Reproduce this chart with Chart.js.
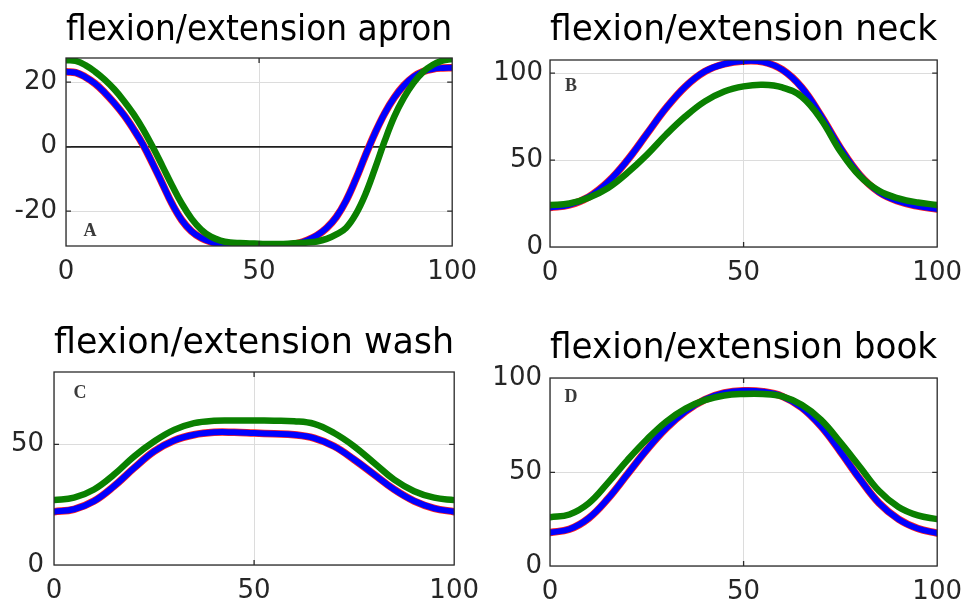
<!DOCTYPE html>
<html><head><meta charset="utf-8">
<script src="https://cdn.jsdelivr.net/npm/chart.js@4"></script>
<style>
html,body{margin:0;padding:0;background:#fff;overflow:hidden;width:971px;height:605px;}
canvas{position:absolute;}
</style></head><body>
<canvas id="cA"></canvas><canvas id="cB"></canvas><canvas id="cC"></canvas><canvas id="cD"></canvas>
<script>
// ---- data ----
const cyclePctFine = [0,2.5,5,7.5,10,12.5,15,17.5,20,22.5,25,27.5,30,32.5,35,37.5,40,42.5,45,47.5,50,52.5,55,57.5,60,62.5,65,67.5,70,72.5,75,77.5,80,82.5,85,87.5,90,92.5,95,97.5,100];
const cyclePct = [0,5,10,15,20,25,30,35,40,45,50,55,60,65,70,75,80,85,90,95,100];
const xTickValues = [0,50,100];

const apronTitle = 'flexion/extension apron';
const apronYTicks = [-20,0,20];
const apronRed   = [23.2,23.0,21.6,19.6,16.8,13.5,9.8,5.4,0.5,-5.4,-11.6,-17.8,-22.8,-26.2,-28.3,-29.5,-30.2,-30.5,-30.7,-30.8,-30.8,-30.8,-30.7,-30.5,-30.0,-29.0,-27.5,-25.2,-21.8,-16.8,-10.2,-2.8,4.2,10.3,15.2,19.0,21.7,23.3,24.1,24.4,24.5];
const apronBlue  = [23.2,23.0,21.6,19.6,16.8,13.5,9.8,5.4,0.5,-5.4,-11.6,-17.8,-22.8,-26.2,-28.3,-29.5,-30.2,-30.5,-30.7,-30.8,-30.8,-30.8,-30.7,-30.5,-30.0,-29.0,-27.5,-25.2,-21.8,-16.8,-10.2,-2.8,4.2,10.3,15.2,19.0,21.7,23.3,24.1,24.4,24.5];
const apronGreen = [26.8,26.6,25.3,23.3,20.8,17.8,14.2,10.1,5.3,-0.2,-6.1,-12.1,-17.7,-22.3,-25.7,-27.9,-29.1,-29.7,-29.9,-30.0,-30.1,-30.2,-30.2,-30.1,-29.9,-29.7,-29.4,-28.6,-27.2,-25.2,-21.0,-14.8,-6.8,1.7,9.3,15.2,19.8,23.2,25.4,26.7,27.2];

const neckTitle = 'flexion/extension neck';
const neckYTicks = [0,50,100];
const neckRed   = [22.7,24.2,28.8,37.5,50.0,65.0,80.0,92.4,101.0,105.3,107.0,106.5,102.0,91.8,75.5,57.0,41.5,31.5,26.3,23.5,21.8];
const neckBlue  = [22.7,24.2,28.8,37.5,50.0,65.0,80.0,92.4,101.0,105.3,107.0,106.5,102.0,91.8,75.5,57.0,41.5,31.5,26.3,23.5,21.8];
const neckGreen = [24.2,25.0,28.4,34.0,42.7,53.0,64.7,75.2,83.8,89.5,92.4,93.3,91.8,86.5,73.5,55.0,40.8,32.3,28.0,25.6,24.2];

const washTitle = 'flexion/extension wash';
const washYTicks = [0,50];
const washRed   = [22.1,23.1,26.5,32.7,40.2,47.1,51.6,54.0,55.0,55.0,54.7,54.4,54.0,52.6,49.2,43.7,37.5,31.3,26.5,23.5,22.1];
const washBlue  = [22.1,23.1,26.5,32.7,40.2,47.1,51.6,54.0,55.0,55.0,54.7,54.4,54.0,52.6,49.2,43.7,37.5,31.3,26.5,23.5,22.1];
const washGreen = [26.9,27.9,31.3,37.5,45.0,51.2,56.0,58.8,59.8,59.9,59.9,59.8,59.6,58.5,54.7,49.2,42.3,35.4,30.6,27.9,26.9];

const bookTitle = 'flexion/extension book';
const bookYTicks = [0,50,100];
const bookRed   = [17.9,19.6,25.5,36.0,49.0,62.0,73.5,82.5,88.8,92.3,93.5,93.0,90.5,84.5,74.5,61.0,46.5,33.5,25.0,20.0,17.5];
const bookBlue  = [17.9,19.6,25.5,36.0,49.0,62.0,73.5,82.5,88.8,92.3,93.5,93.0,90.5,84.5,74.5,61.0,46.5,33.5,25.0,20.0,17.5];
const bookGreen = [26.0,27.5,33.5,44.5,56.5,67.5,77.0,84.0,88.5,91.0,91.8,91.8,90.5,86.0,78.0,66.0,53.0,40.0,31.5,27.0,25.0];

// ---- layout / style ----
const Yw = 66, Xh = 45, padRight = 30;
const panels = [
  {id:'cA', title:apronTitle, letter:'A', xs:cyclePctFine, red:apronRed, blue:apronBlue, green:apronGreen, yTicks:apronYTicks, yMin:-30.8, yMax:27.5, zeroLine:true,
   box:{l:66,r:458,t:57,b:246}, top:0, tPad:[14,9], yPad:9, lpos:{edge:'bottom',dx:24,dy:-15}},
  {id:'cB', title:neckTitle, letter:'B', xs:cyclePct, red:neckRed, blue:neckBlue, green:neckGreen, yTicks:neckYTicks, yMin:0, yMax:107.6, zeroLine:false,
   box:{l:550,r:943,t:59,b:247}, top:0, tPad:[14,11], yPad:7, lpos:{edge:'top',dx:21,dy:26}},
  {id:'cC', title:washTitle, letter:'C', xs:cyclePct, red:washRed, blue:washBlue, green:washGreen, yTicks:washYTicks, yMin:0, yMax:80, zeroLine:false,
   box:{l:54,r:460,t:371,b:565}, top:300, tPad:[27,10], yPad:10, lpos:{edge:'top',dx:26,dy:21}},
  {id:'cD', title:bookTitle, letter:'D', xs:cyclePct, red:bookRed, blue:bookBlue, green:bookGreen, yTicks:bookYTicks, yMin:0, yMax:100.3, zeroLine:false,
   box:{l:550,r:943,t:377,b:566}, top:300, tPad:[32,11], yPad:8, lpos:{edge:'top',dx:21,dy:19}}
];

const boxPlugin = {
  id:'matlabBox',
  afterDatasetsDraw(chart, args, opts){
    const {ctx, chartArea:a, scales} = chart;
    ctx.save();
    ctx.strokeStyle = '#2b2b2b';
    ctx.lineWidth = 1.3;
    ctx.strokeRect(a.left, a.top, a.right - a.left, a.bottom - a.top);
    const tl = 5;
    ctx.beginPath();
    scales.x.ticks.forEach(t => {
      const px = scales.x.getPixelForValue(t.value);
      if (px <= a.left + 1 || px >= a.right - 1) return;
      ctx.moveTo(px, a.bottom); ctx.lineTo(px, a.bottom - tl);
      ctx.moveTo(px, a.top); ctx.lineTo(px, a.top + tl);
    });
    scales.y.ticks.forEach(t => {
      const py = scales.y.getPixelForValue(t.value);
      if (py <= a.top + 1 || py >= a.bottom - 1) return;
      ctx.moveTo(a.left, py); ctx.lineTo(a.left + tl, py);
      ctx.moveTo(a.right, py); ctx.lineTo(a.right - tl, py);
    });
    ctx.stroke();
    if (opts.letter) {
      ctx.font = 'bold 18px "Liberation Serif", "Times New Roman", serif';
      ctx.fillStyle = '#3a3a3a';
      ctx.textAlign = 'center';
      ctx.textBaseline = 'middle';
      const lp = opts.lpos;
      const y = lp.edge === 'top' ? a.top + lp.dy : a.bottom + lp.dy;
      ctx.fillText(opts.letter, a.left + lp.dx, y);
    }
    ctx.restore();
  }
};

function series(xs, vals){ return xs.map((x,i)=>({x:x, y:vals[i]})); }

panels.forEach(p => {
  const cv = document.getElementById(p.id);
  const plotW = p.box.r - p.box.l;
  cv.width = Yw + plotW + padRight;
  cv.height = p.box.b + Xh - p.top;
  cv.style.left = (p.box.l - Yw) + 'px';
  cv.style.top = p.top + 'px';
  cv.style.width = cv.width + 'px';
  cv.style.height = cv.height + 'px';
  const tickFont = {family:'"DejaVu Sans", sans-serif', size:26};
  const lineBase = {pointRadius:0, tension:0.4, borderCapStyle:'round', borderJoinStyle:'round'};
  new Chart(cv, {
    type:'line',
    data:{datasets:[
      Object.assign({label:'green', data:series(p.xs, p.green), borderColor:'#0a8000', borderWidth:6.5, order:0}, lineBase),
      Object.assign({label:'blue', data:series(p.xs, p.blue), borderColor:'#0000ff', borderWidth:6, order:1}, lineBase),
      Object.assign({label:'red', data:series(p.xs, p.red), borderColor:'#ff2020', borderWidth:7.5, order:2}, lineBase)
    ]},
    options:{
      responsive:false, animation:false, devicePixelRatio:1,
      events:[],
      layout:{padding:{left:0,right:padRight,top:0,bottom:0}},
      plugins:{
        legend:{display:false}, tooltip:{enabled:false},
        title:{display:true, fullSize:false, text:p.title, color:'#000',
               font:{family:'"DejaVu Sans", sans-serif', size:36, weight:'normal', lineHeight:1},
               padding:{top:p.tPad[0] - 1, bottom:p.tPad[1]}},
        matlabBox:{letter:p.letter, lpos:p.lpos}
      },
      scales:{
        x:{type:'linear', min:0, max:100,
           afterBuildTicks:s=>{s.ticks = xTickValues.map(v=>({value:v}));},
           afterFit:s=>{s.height = Xh;},
           grid:{color:'#dcdcdc', lineWidth:1, drawTicks:false},
           border:{display:false},
           ticks:{font:tickFont, color:'#262626', padding:11, maxRotation:0, autoSkip:false}},
        y:{type:'linear', min:p.yMin, max:p.yMax,
           afterBuildTicks:s=>{s.ticks = p.yTicks.map(v=>({value:v}));},
           afterFit:s=>{s.width = Yw;},
           grid:{color:c=> (p.zeroLine && c.tick && c.tick.value===0) ? '#1e1e1e' : '#dcdcdc',
                 lineWidth:c=> (p.zeroLine && c.tick && c.tick.value===0) ? 1.8 : 1,
                 drawTicks:false},
           border:{display:false},
           ticks:{font:tickFont, color:'#262626', padding:p.yPad, autoSkip:false}}
      }
    },
    plugins:[boxPlugin]
  });
});
</script>
</body></html>
